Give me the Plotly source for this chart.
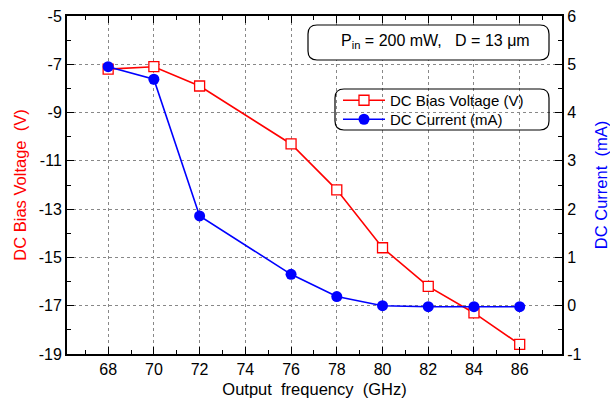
import plotly.graph_objects as go

freq = [68, 70, 72, 76, 78, 80, 82, 84, 86]
bias_voltage = [-7.2, -7.1, -7.9, -10.3, -12.2, -14.6, -16.2, -17.3, -18.6]
dc_current = [4.95, 4.69, 1.86, 0.65, 0.19, 0.0, -0.02, -0.02, -0.02]

x_ticks = [68, 70, 72, 74, 76, 78, 80, 82, 84, 86]
x_tick_labels = ["68", "70", "72", "74", "76", "78", "80", "82", "84", "86"]
v_ticks = [-19, -17, -15, -13, -11, -9, -7, -5]
v_tick_labels = ["-19", "-17", "-15", "-13", "-11", "-9", "-7", "-5"]
i_ticks = [-1, 0, 1, 2, 3, 4, 5, 6]
i_tick_labels = ["-1", "0", "1", "2", "3", "4", "5", "6"]

FONT = "Liberation Sans, Arial, sans-serif"
W, H = 610, 404
ML, MR, MT, MB = 67, 48, 16, 50
PW, PH = W - ML - MR, H - MT - MB


def px2paper(px, py):
    return (px - ML) / PW, (H - MB - py) / PH


def rounded_box(x0, y0, x1, y1, r=9):
    rx, ry = r / PW, r / PH
    a0, b1 = px2paper(x0, y0)
    a1, b0 = px2paper(x1, y1)
    return (f"M {a0+rx},{b1} L {a1-rx},{b1} Q {a1},{b1} {a1},{b1-ry} "
            f"L {a1},{b0+ry} Q {a1},{b0} {a1-rx},{b0} L {a0+rx},{b0} "
            f"Q {a0},{b0} {a0},{b0+ry} L {a0},{b1-ry} Q {a0},{b1} {a0+rx},{b1} Z")


fig = go.Figure()
fig.add_trace(go.Scatter(
    x=freq, y=bias_voltage, name="DC Bias Voltage (V)", mode="lines+markers",
    line=dict(color="#ff0000", width=1.6),
    marker=dict(symbol="square", size=10, color="white", line=dict(color="#ff0000", width=1.3)),
    yaxis="y", legend="legend"))
fig.add_trace(go.Scatter(
    x=freq, y=dc_current, name="DC Current (mA)", mode="lines+markers",
    line=dict(color="#0000ff", width=1.6),
    marker=dict(symbol="circle", size=11, color="#0000ff"),
    yaxis="y2", legend="legend2"))

axis_common = dict(
    showline=True, linecolor="black", linewidth=2,
    ticks="inside", ticklen=7, tickwidth=1, tickcolor="black",
    tickfont=dict(family=FONT, size=16, color="black"),
    zeroline=False, automargin=False,
)

legend_common = dict(xanchor="left", yanchor="top", bgcolor="rgba(0,0,0,0)", borderwidth=0,
                     font=dict(family=FONT, size=15, color="black"), itemwidth=42)

fig.update_layout(
    width=W, height=H,
    margin=dict(l=ML, r=MR, t=MT, b=MB, autoexpand=False),
    paper_bgcolor="white", plot_bgcolor="white",
    font=dict(family=FONT, size=15, color="black"),
    showlegend=True,
    legend=dict(x=px2paper(338, 84)[0], y=px2paper(338, 84)[1], **legend_common),
    legend2=dict(x=px2paper(338, 103)[0], y=px2paper(338, 103)[1], **legend_common),
    xaxis=dict(
        **axis_common, mirror="ticks", range=[66.2, 87.85],
        tickmode="array", tickvals=x_ticks, ticktext=x_tick_labels,
        showgrid=True, gridcolor="#888888", griddash="dot", gridwidth=1,
        minor=dict(dtick=1, tick0=68, ticks="inside", ticklen=4, tickcolor="black", showgrid=False),
        title=dict(text="Output  frequency  (GHz)", font=dict(family=FONT, size=16.5, color="black"), standoff=6),
    ),
    yaxis=dict(
        **axis_common, range=[-19, -5],
        tickmode="array", tickvals=v_ticks, ticktext=v_tick_labels,
        showgrid=True, gridcolor="#888888", griddash="dot", gridwidth=1,
        minor=dict(dtick=1, tick0=-19, ticks="inside", ticklen=4, tickcolor="black", showgrid=False),
        title=dict(text="DC Bias Voltage  (V)", font=dict(family=FONT, size=16.5, color="#ff0000"), standoff=8),
    ),
    yaxis2=dict(
        **axis_common, overlaying="y", side="right", range=[-1, 6],
        tickmode="array", tickvals=i_ticks, ticktext=i_tick_labels,
        showgrid=False,
        minor=dict(dtick=0.5, tick0=-1, ticks="inside", ticklen=4, tickcolor="black", showgrid=False),
        title=dict(text="DC Current  (mA)", font=dict(family=FONT, size=16.5, color="#0000ff"), standoff=18),
    ),
    shapes=[
        dict(type="path", xref="paper", yref="paper", path=rounded_box(308, 25, 549, 60),
             line=dict(color="black", width=1.2), fillcolor="white", layer="above"),
        dict(type="path", xref="paper", yref="paper", path=rounded_box(335, 89, 549, 130),
             line=dict(color="black", width=1.2), fillcolor="rgba(0,0,0,0)", layer="above"),
    ],
    annotations=[
        dict(text="P<sub>in</sub> = 200 mW,   D = 13 μm", xref="paper", yref="paper",
             x=px2paper(435, 42)[0], y=px2paper(435, 42)[1], xanchor="center", yanchor="middle",
             showarrow=False, font=dict(family=FONT, size=16, color="black")),
    ],
)

fig.write_html("out.html", config={"displayModeBar": False},
               post_script="document.body.style.margin='0';document.body.style.overflow='hidden';")
